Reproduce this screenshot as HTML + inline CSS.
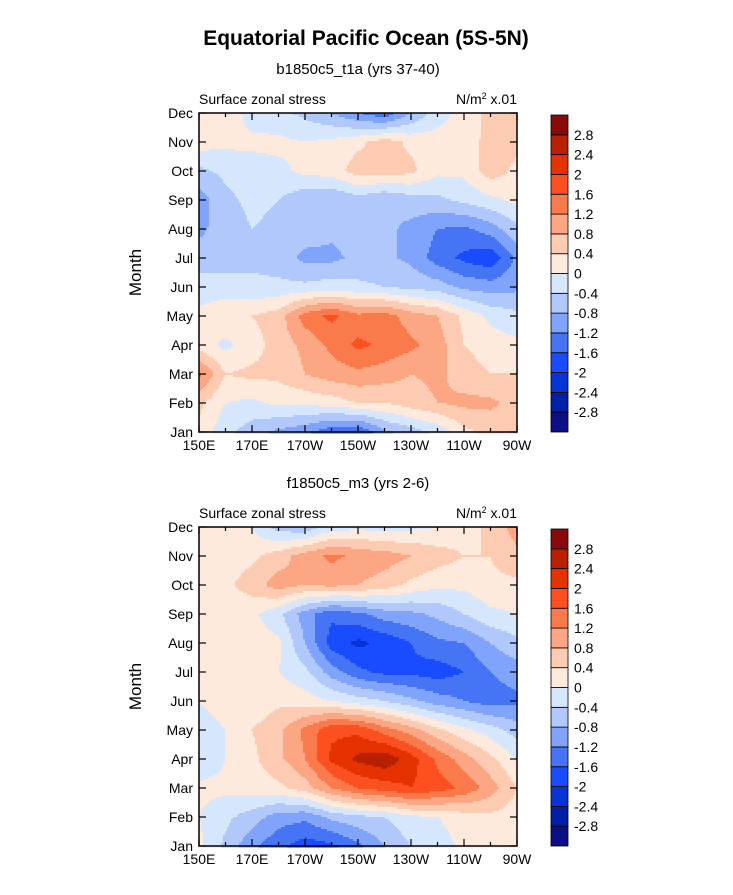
<!DOCTYPE html>
<html><head><meta charset="utf-8"><style>
body{margin:0;background:#fff;font-family:"Liberation Sans",Arial,sans-serif;}
svg text{font-family:"Liberation Sans",Arial,sans-serif;fill:#000}
</style></head><body>
<svg id="fig" width="733" height="890" xmlns="http://www.w3.org/2000/svg">
<text x="366" y="45" font-size="21" font-weight="bold" text-anchor="middle">Equatorial Pacific Ocean (5S-5N)</text>
</svg>
<script>
const months=["Jan","Feb","Mar","Apr","May","Jun","Jul","Aug","Sep","Oct","Nov","Dec"];
const lonLabels=["150E","170E","170W","150W","130W","110W","90W"];
const levels=[-2.8,-2.4,-2,-1.6,-1.2,-0.8,-0.4,0,0.4,0.8,1.2,1.6,2,2.4,2.8];
const levelLabels=["-2.8","-2.4","-2","-1.6","-1.2","-0.8","-0.4","0","0.4","0.8","1.2","1.6","2","2.4","2.8"];
const colors=["#0c0f86","#0020a8","#0535d6","#1a4cff","#4575f5","#80a4fb","#b0c8fc","#d6e6fd","#feeadc","#fdcab2","#fca684","#fa7a4c","#fc5020","#e63200","#b82000","#8a0a0a"];
// rows Jan..Dec, cols 150E..90W every 10 deg
const gridA=[
[0.3,-0.3,-0.6,-0.9,-1.1,-1.5,-1.6,-0.9,-0.6,-0.3,0.3,0.5,0.4],
[0.5,0.0,-0.1,0.1,0.1,0.2,0.4,0.4,0.6,0.8,0.9,0.9,0.6],
[1.3,0.4,0.5,0.5,0.8,1.0,1.1,1.0,0.8,0.9,0.6,0.4,0.4],
[0.2,-0.1,0.2,0.6,0.9,1.3,1.7,1.5,1.3,1.0,0.4,0.2,0.1],
[0.1,0.3,0.4,0.6,1.4,1.7,1.3,1.4,1.0,0.8,0.3,-0.1,-0.3],
[-0.2,-0.2,-0.3,-0.3,-0.3,-0.2,-0.3,-0.4,-0.5,-0.6,-0.9,-1.0,-0.9],
[-0.6,-0.6,-0.5,-0.6,-0.9,-0.9,-0.7,-0.7,-0.9,-1.4,-1.7,-1.9,-1.1],
[-0.9,-0.6,-0.4,-0.5,-0.6,-0.7,-0.6,-0.7,-0.9,-1.2,-1.3,-1.0,-0.5],
[-1.0,-0.5,-0.3,-0.4,-0.7,-0.8,-0.6,-0.8,-0.6,-0.5,-0.3,-0.1,0.1],
[-0.5,-0.3,-0.2,-0.1,0.1,0.2,0.6,0.6,0.5,0.1,0.1,0.6,0.3],
[0.2,0.1,0.1,0.1,0.0,0.1,0.3,0.6,0.3,0.2,0.1,0.6,0.5],
[0.3,0.3,-0.2,-0.3,-0.5,-0.8,-1.2,-1.5,-0.8,-0.2,0.2,0.5,0.5]];
const gridB=[
[0.1,-0.5,-1.1,-1.5,-1.8,-1.7,-1.3,-0.8,-0.4,-0.2,0.1,0.3,0.3],
[0.0,-0.3,-0.6,-1.0,-1.1,-0.7,-0.5,-0.4,-0.1,0.0,0.2,0.3,0.2],
[0.1,0.1,0.2,0.3,0.6,1.2,1.6,1.8,2.0,1.8,1.5,1.0,0.4],
[-0.3,0.0,0.3,0.7,1.2,2.1,2.5,2.7,2.2,1.5,1.0,0.5,0.0],
[-0.1,0.0,0.4,0.7,1.3,1.9,1.9,1.4,1.0,0.5,0.1,-0.2,-0.6],
[0.0,0.1,0.1,0.3,0.2,0.0,-0.2,-0.4,-0.7,-1.0,-1.2,-1.4,-1.3],
[0.0,0.1,0.1,0.0,-0.3,-1.0,-1.5,-1.7,-1.7,-1.8,-1.6,-1.2,-1.0],
[0.0,0.1,0.2,0.1,-0.8,-1.8,-2.1,-1.9,-1.6,-1.3,-1.2,-0.8,-0.5],
[0.0,0.1,0.1,-0.3,-1.0,-1.5,-1.3,-1.0,-0.9,-0.7,-0.4,-0.1,0.0],
[0.1,0.3,0.6,1.0,0.8,0.9,0.8,0.6,0.3,0.1,0.1,0.3,0.3],
[0.1,0.2,0.3,0.6,1.0,1.3,1.1,1.0,0.8,0.6,0.4,0.4,0.7],
[0.1,0.2,0.0,-0.6,-0.7,-0.2,-0.1,-0.2,-0.1,0.0,0.2,0.5,1.0]];
const panels=[{grid:gridA,title:"b1850c5_t1a (yrs 37-40)",top:113},{grid:gridB,title:"f1850c5_m3 (yrs 2-6)",top:527}];
const NS="http://www.w3.org/2000/svg";
const svg=document.getElementById('fig');
function mk(tag,attrs,parent){const e=document.createElementNS(NS,tag);for(const k in attrs)e.setAttribute(k,attrs[k]);(parent||svg).appendChild(e);return e;}
function colorFor(v){let i=0;while(i<levels.length&&v>=levels[i])i++;return colors[i];}
const L=199,R=517,W=R-L,H=319;
panels.forEach((p,pi)=>{
  const T=p.top,B=T+H;
  const g=mk('g',{});
  
  
  const nr=p.grid.length,nc=p.grid[0].length;
  const xOf=c=>L+c*W/(nc-1), yOf=r=>B-r*H/(nr-1);
  function val(c,r){const c0=Math.min(Math.floor(c),nc-2),r0=Math.min(Math.floor(r),nr-2);const fx=c-c0,fy=r-r0;const G=p.grid;
    return G[r0][c0]*(1-fx)*(1-fy)+G[r0][c0+1]*fx*(1-fy)+G[r0+1][c0]*(1-fx)*fy+G[r0+1][c0+1]*fx*fy;}
  const cg=mk('g',{},g);
  
  
  const step=2;
  for(let y=0;y<H;y+=step){
    const r=(H-(y+step/2))/H*(nr-1);
    let runStart=0,runCol=null;
    for(let x=0;x<=W;x+=step){
      const col=x<W?colorFor(val(Math.min(x+step/2,W)/W*(nc-1),Math.max(0,r))):null;
      if(col!==runCol){
        if(runCol){const rc=mk('rect',{x:L+runStart,y:T+y,width:x-runStart+0.6,height:step+0.6,fill:runCol},cg);
          
          }
        runStart=x;runCol=col;}
    }
  }
  mk('rect',{x:L,y:T,width:W,height:H,fill:'none',stroke:'#000','stroke-width':1.5},g);
  const tt=mk('text',{x:358,y:T-39,'font-size':15,'text-anchor':'middle'},g);tt.textContent=p.title;
  
  const ls=mk('text',{x:199,y:T-9,'font-size':14},g);ls.textContent="Surface zonal stress";
  
  const rs=mk('text',{x:517,y:T-9,'font-size':14,'text-anchor':'end'},g);
  rs.innerHTML='N/m<tspan dy="-5" font-size="9">2</tspan><tspan dy="5"> x.01</tspan>';
  
  const yt=mk('text',{x:141,y:T+H/2,'font-size':17,'text-anchor':'middle',transform:`rotate(-90 141 ${T+H/2})`},g);yt.textContent="Month";
  
  months.forEach((m,i)=>{const y=yOf(i);
    mk('line',{x1:L,x2:L+7,y1:y,y2:y,stroke:'#000','stroke-width':1.2},g);
    mk('line',{x1:R-7,x2:R,y1:y,y2:y,stroke:'#000','stroke-width':1.2},g);
    const t=mk('text',{x:L-6,y:y+5,'font-size':14,'text-anchor':'end'},g);t.textContent=m;
    });
  for(let i=0;i<nc;i++){const x=xOf(i),len=i%2===0?7:4;
    mk('line',{x1:x,x2:x,y1:B,y2:B-len,stroke:'#000','stroke-width':1.2},g);
    mk('line',{x1:x,x2:x,y1:T,y2:T+len,stroke:'#000','stroke-width':1.2},g);}
  lonLabels.forEach((lb,i)=>{const t=mk('text',{x:xOf(i*2),y:B+18,'font-size':14,'text-anchor':'middle'},g);t.textContent=lb;
    });
  const cb=mk('g',{},g);
  
  const cbT=T+2,cbH=H-2,ch=cbH/colors.length,cx=551,cw=17;
  colors.forEach((c,i)=>{const y=cbT+cbH-(i+1)*ch;
    const r=mk('rect',{x:cx,y:y,width:cw,height:ch,fill:c,stroke:'#000','stroke-width':0.8},cb);
    });
  levelLabels.forEach((lb,i)=>{const y=cbT+cbH-(i+1)*ch;
    const t=mk('text',{x:574,y:y+5,'font-size':14},cb);t.textContent=lb;
    });
});
</script>
</body></html>
